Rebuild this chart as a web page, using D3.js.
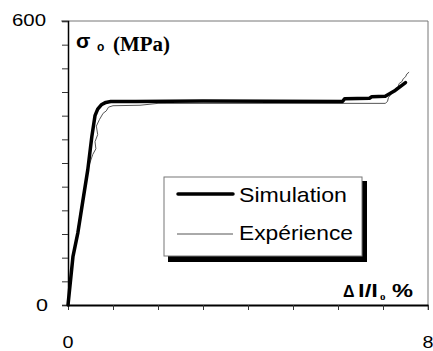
<!DOCTYPE html>
<html><head><meta charset="utf-8">
<script src="https://cdn.jsdelivr.net/npm/d3@7"></script>
<style>body{margin:0;background:#fff}svg{display:block}</style>
</head><body><svg id="c" width="433" height="351"></svg>
<script>
const simulation = [[0,0],[0.11,102],[0.22,153],[0.33,220],[0.44,286],[0.53,356],[0.6,400],[0.66,414],[0.74,423],[0.84,428],[0.95,430],[1.5,430],[3,431],[6.1,430],[6.15,436],[6.7,437],[6.75,440],[7.05,441],[7.25,452],[7.5,470]];
const experience = [[0,0],[0.1,95],[0.2,150],[0.35,240],[0.45,290],[0.55,318],[0.62,330],[0.6,345],[0.66,360],[0.63,378],[0.7,392],[0.78,405],[0.85,410],[0.9,418],[1.0,421],[1.6,422],[2.0,426],[7.05,426],[7.1,430],[7.12,438],[7.2,448],[7.25,452],[7.28,458],[7.33,460],[7.36,468],[7.42,472],[7.45,478],[7.5,482],[7.53,488],[7.58,492]];
const xTicks = [0,1,2,3,4,5,6,7,8];
const yTicks = [0,50,100,150,200,250,300,350,400,450,500,550,600];
const xTickLabels = ["0","8"];
const yTickLabels = ["0","600"];
const legendLabels = ["Simulation","Expérience"];

const svg = d3.select("#c");
const x = d3.scaleLinear().domain([0,8]).range([68,428]);
const y = d3.scaleLinear().domain([0,600]).range([305,21]);

// frame top & right
svg.append("line").attr("x1",61).attr("x2",428).attr("y1",y(600)).attr("y2",y(600)).attr("stroke","#777").attr("stroke-width",1);
svg.append("line").attr("x1",428).attr("x2",428).attr("y1",y(600)).attr("y2",y(0)+5).attr("stroke","#777").attr("stroke-width",1);

// y axis
const yAxis = svg.append("g").attr("transform","translate(68,0)")
  .call(d3.axisLeft(y).tickValues(yTicks).tickSize(6).tickFormat(""));
yAxis.select(".domain").attr("stroke","#000").attr("stroke-width",1.5);
yAxis.selectAll(".tick line").attr("stroke","#333");
// x axis
const xAxis = svg.append("g").attr("transform","translate(0,305)")
  .call(d3.axisBottom(x).tickValues(xTicks).tickSize(5).tickSizeOuter(0).tickFormat(""));
xAxis.select(".domain").attr("stroke","#000").attr("stroke-width",2);
xAxis.selectAll(".tick line").attr("stroke","#333");

// tick labels
const lab = "Liberation Sans, Arial, sans-serif";
svg.append("text").attr("x",46).attr("y",y(600)+5).attr("text-anchor","end").attr("font-family",lab).attr("font-size",17)
  .attr("textLength",34).attr("lengthAdjust","spacingAndGlyphs").text(yTickLabels[1]);
svg.append("text").attr("x",48).attr("y",y(0)+6).attr("text-anchor","end").attr("font-family",lab).attr("font-size",17)
  .attr("textLength",12).attr("lengthAdjust","spacingAndGlyphs").text(yTickLabels[0]);
svg.append("text").attr("x",x(0)).attr("y",348).attr("text-anchor","middle").attr("font-family",lab).attr("font-size",17)
  .attr("textLength",11).attr("lengthAdjust","spacingAndGlyphs").text(xTickLabels[0]);
svg.append("text").attr("x",x(8)).attr("y",348).attr("text-anchor","middle").attr("font-family",lab).attr("font-size",17)
  .attr("textLength",11).attr("lengthAdjust","spacingAndGlyphs").text(xTickLabels[1]);

// axis titles
svg.append("text").attr("x",76).attr("y",48).attr("font-family",lab).attr("font-weight","bold").attr("font-size",21).text("σ");
svg.append("text").attr("x",97).attr("y",51).attr("font-family",lab).attr("font-weight","bold").attr("font-size",12).text("o");
svg.append("text").attr("x",113).attr("y",51).attr("font-family","Liberation Serif, Times New Roman, serif").attr("font-weight","bold").attr("font-size",20)
  .attr("textLength",57).attr("lengthAdjust","spacingAndGlyphs").text("(MPa)");

svg.append("text").attr("x",343).attr("y",297).attr("font-family",lab).attr("font-weight","bold").attr("font-size",16).text("Δ");
svg.append("text").attr("x",358).attr("y",297).attr("font-family",lab).attr("font-weight","bold").attr("font-size",18)
  .attr("textLength",20).attr("lengthAdjust","spacingAndGlyphs").text("l/l");
svg.append("text").attr("x",380).attr("y",300).attr("font-family","Liberation Serif, serif").attr("font-weight","bold").attr("font-size",11).text("o");
svg.append("text").attr("x",392).attr("y",297).attr("font-family",lab).attr("font-weight","bold").attr("font-size",18)
  .attr("textLength",21).attr("lengthAdjust","spacingAndGlyphs").text("%");

// curves
const line = d3.line().x(d=>x(d[0])).y(d=>y(d[1]));
svg.append("path").datum(experience).attr("d",line).attr("fill","none").attr("stroke","#555").attr("stroke-width",1);
svg.append("path").datum(simulation).attr("d",line).attr("fill","none").attr("stroke","#000").attr("stroke-width",3.5).attr("stroke-linejoin","round").attr("stroke-linecap","round");

// legend
svg.append("rect").attr("x",168).attr("y",181).attr("width",199).attr("height",81).attr("fill","#000");
svg.append("rect").attr("x",164).attr("y",177).attr("width",198).attr("height",79).attr("fill","#fff").attr("stroke","#777").attr("stroke-width",1);
svg.append("line").attr("x1",178).attr("x2",233).attr("y1",194).attr("y2",194).attr("stroke","#000").attr("stroke-width",3.5).attr("stroke-linecap","round");
svg.append("line").attr("x1",177).attr("x2",233).attr("y1",234).attr("y2",234).attr("stroke","#555").attr("stroke-width",1);
svg.append("text").attr("x",239).attr("y",202).attr("font-family",lab).attr("font-size",21)
  .attr("textLength",108).attr("lengthAdjust","spacingAndGlyphs").text(legendLabels[0]);
svg.append("text").attr("x",239).attr("y",240).attr("font-family",lab).attr("font-size",21)
  .attr("textLength",114).attr("lengthAdjust","spacingAndGlyphs").text(legendLabels[1]);
</script></body></html>
